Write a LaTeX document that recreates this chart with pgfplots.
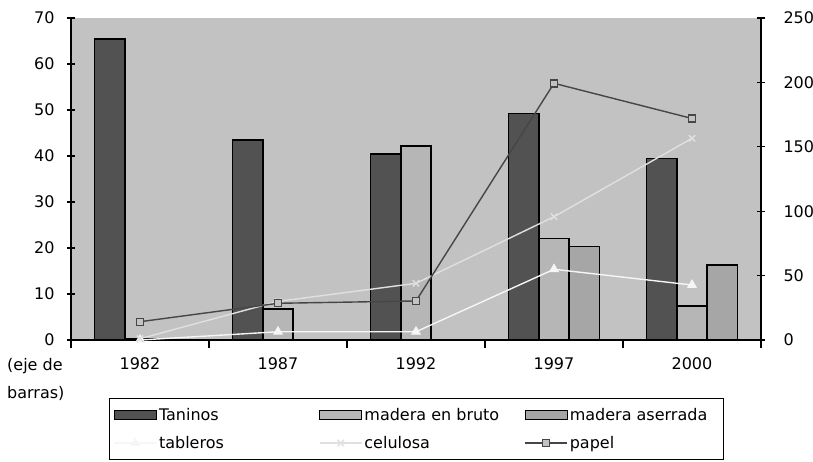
\documentclass[border=0pt]{standalone}
\usepackage{fontspec}
\setmainfont{DejaVu Sans}
\usepackage{pgfplots}
\pgfplotsset{compat=1.18}

\definecolor{bgplot}{RGB}{194,194,194}
\definecolor{taninos}{RGB}{82,82,82}
\definecolor{bruto}{RGB}{182,182,182}
\definecolor{aserrada}{RGB}{166,166,166}
\definecolor{tableros}{RGB}{246,246,246}
\definecolor{celulosa}{RGB}{224,224,224}
\definecolor{papel}{RGB}{70,70,70}

\newcommand{\lbl}{\fontsize{16}{19}\selectfont}

\pgfplotsset{
  base/.style={
    scale only axis, width=690pt, height=322pt,
    at={(71pt,121pt)}, anchor=south west,
    xmin=-0.5, xmax=4.5,
    tick align=center, major tick length=8pt, minor tick length=8pt,
    tick style={black, line width=1.2pt},
    axis line style={black, line width=1.4pt, -},
    tick label style={font=\lbl},
    /pgf/number format/assume math mode=true,
  },
  barimg/.style={legend image code/.code={
    \draw[##1, line width=1.2pt] (0pt,-4.5pt) rectangle (42pt,4.5pt);}},
  lineimg/.style={legend image code/.code={
    \draw[##1, mark repeat=2, mark phase=2] plot coordinates {(0pt,0pt) (21pt,0pt) (42pt,0pt)};}},
}

\begin{document}
\begin{tikzpicture}
% barras (eje izquierdo)
\begin{axis}[base,
  axis x line*=bottom, axis y line*=left,
  axis background/.style={fill=bgplot},
  ymin=0, ymax=70, ytick={0,10,...,70},
  xtick={0,1,2,3,4}, xticklabels={1982,1987,1992,1997,2000},
  major x tick style={draw=none},
  minor xtick={-0.5,0.5,...,4.5},
  xticklabel style={yshift=-6pt},
  yticklabel style={xshift=-9pt},
  ybar, bar width=0.22,
]
\addplot[fill=taninos, draw=black, line width=1.4pt, bar shift=-0.22]
  coordinates {(0,65.4) (1,43.5) (2,40.4) (3,49.3) (4,39.5)};
\addplot[fill=bruto, draw=black, line width=1.4pt, bar shift=0]
  coordinates {(0,0.3) (1,6.7) (2,42.2) (3,22.1) (4,7.4)};
\addplot[fill=aserrada, draw=black, line width=1.4pt, bar shift=0.22]
  coordinates {(3,20.3) (4,16.3)};
\end{axis}

% lineas (eje derecho)
\begin{axis}[base,
  axis y line*=right, axis x line=none,
  ymin=0, ymax=250, ytick={0,50,...,250},
  yticklabel style={xshift=15pt},
  clip=false,
  legend columns=3,
  legend cell align=left,
  legend style={at={(axis description cs:0.0551,-0.180)}, anchor=north west,
    draw=black, line width=1.2pt, fill=white, font=\lbl,
    inner xsep=4pt, inner ysep=8pt, row sep=10pt},
]
\addlegendimage{barimg, fill=taninos, draw=black}
\addlegendentry{\makebox[158pt][l]{Taninos}}
\addlegendimage{barimg, fill=bruto, draw=black}
\addlegendentry{\makebox[158pt][l]{madera en bruto}}
\addlegendimage{barimg, fill=aserrada, draw=black}
\addlegendentry{\makebox[148pt][l]{madera aserrada}}

\addplot[lineimg, color=tableros, line width=1.4pt, mark=triangle*,
  mark size=4.5pt, mark options={fill=tableros}]
  coordinates {(0,0) (1,6.4) (2,6.4) (3,54.9) (4,42.7)};
\addlegendentry{tableros}
\addplot[lineimg, color=celulosa, line width=1.4pt, mark=x, mark size=4.5pt]
  coordinates {(0,1) (1,30) (2,44) (3,95.7) (4,156.6)};
\addlegendentry{celulosa}
\addplot[lineimg, color=papel, line width=1.4pt, mark=square*, mark size=3.5pt,
  mark options={fill=bgplot, draw=papel}]
  coordinates {(0,14.2) (1,28.5) (2,30.3) (3,199.3) (4,172)};
\addlegendentry{papel}
\end{axis}

\node[anchor=north west, align=left, font=\fontsize{16}{28}\selectfont, inner sep=0pt]
  at (7pt,103pt) {(eje de\\barras)};

\pgfresetboundingbox
\path[use as bounding box] (0pt,0pt) rectangle (813pt,461pt);
\end{tikzpicture}
\end{document}
